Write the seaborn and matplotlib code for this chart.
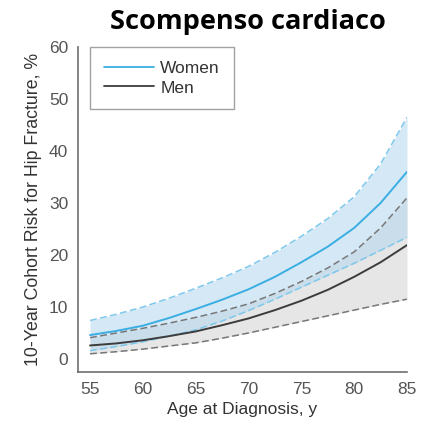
import matplotlib
matplotlib.use("Agg")
import matplotlib.pyplot as plt
import seaborn as sns
import pandas as pd

# Data
age = [55, 57.5, 60, 62.5, 65, 67.5, 70, 72.5, 75, 77.5, 80, 82.5, 85]
women_mean = [4.6, 5.4, 6.4, 7.9, 9.6, 11.4, 13.4, 15.8, 18.6, 21.6, 25.2, 30.0, 36.0]
women_upper = [7.4, 8.6, 10.0, 11.7, 13.6, 15.6, 17.8, 20.5, 23.6, 27.0, 31.2, 37.5, 46.5]
women_lower = [1.6, 2.4, 3.3, 4.4, 5.6, 7.3, 9.3, 11.5, 13.8, 16.1, 18.4, 20.9, 23.4]
men_mean = [2.6, 3.0, 3.6, 4.4, 5.3, 6.5, 7.8, 9.4, 11.2, 13.3, 15.8, 18.6, 21.9]
men_upper = [4.1, 5.0, 5.9, 6.9, 8.0, 9.2, 10.6, 12.6, 14.9, 17.5, 20.6, 25.2, 31.0]
men_lower = [1.0, 1.4, 1.9, 2.5, 3.1, 4.0, 5.0, 6.1, 7.2, 8.3, 9.4, 10.5, 11.5]
x_ticks = [55, 60, 65, 70, 75, 80, 85]
y_ticks = [0, 10, 20, 30, 40, 50, 60]

title = "Scompenso cardiaco"
xlabel = "Age at Diagnosis, y"
ylabel = "10-Year Cohort Risk for Hip Fracture, %"

sns.set_style("white")
plt.rcParams['font.family'] = ['Liberation Sans', 'DejaVu Sans']

df = pd.DataFrame({
    "age": age * 2,
    "risk": women_mean + men_mean,
    "sex": ["Women"] * len(age) + ["Men"] * len(age),
})

blue = "#3aaee2"
blue_ci = "#7ec8ec"
gray = "#3c3c3c"
gray_ci = "#777777"

fig = plt.figure(figsize=(4.23, 4.33), dpi=100)
ax = fig.add_axes([0.1844, 0.1409, 0.7778, 0.7506])

ax.fill_between(age, men_lower, men_upper, color="#e6e6e6", lw=0, zorder=1)
ax.fill_between(age, women_lower, women_upper, color="#b3d6ee", alpha=0.55, lw=0, zorder=2)

sns.lineplot(data=df, x="age", y="risk", hue="sex", palette={"Women": blue, "Men": gray},
             hue_order=["Women", "Men"], ax=ax, lw=1.4, zorder=5)

dash = (0, (4.5, 2.2))
ax.plot(age, women_upper, color=blue_ci, ls=dash, lw=1.1, zorder=4)
ax.plot(age, women_lower, color=blue_ci, ls=dash, lw=1.1, zorder=4)
ax.plot(age, men_upper, color=gray_ci, ls=dash, lw=1.1, zorder=3)
ax.plot(age, men_lower, color=gray_ci, ls=dash, lw=1.1, zorder=3)

ax.set_xlim(53.86, 85)
ax.set_ylim(-2.5, 60)
ax.set_xticks(x_ticks)
ax.set_yticks(y_ticks)
for s in ["top", "right"]:
    ax.spines[s].set_visible(False)
for s in ["left", "bottom"]:
    ax.spines[s].set_color("#6e6e6e")
    ax.spines[s].set_linewidth(1.2)
ax.tick_params(axis="both", direction="out", length=4, width=1.0, color="#6e6e6e",
               labelsize=12.5, labelcolor="#555555", pad=3)

ax.set_xlabel(xlabel, fontsize=12.5, color="#333333", labelpad=4)
ax.set_ylabel(ylabel, fontsize=12.8, color="#333333", labelpad=5)

leg = ax.legend(loc="upper left", bbox_to_anchor=(0.036, 1.0), frameon=True, fancybox=False,
                fontsize=12.5, handlelength=2.9, borderpad=0.8, labelspacing=0.25,
                handletextpad=0.35, borderaxespad=0.0)
leg.get_frame().set_edgecolor("#8a8a8a")
leg.get_frame().set_linewidth(1.0)
for t in leg.get_texts():
    t.set_color("#333333")
for l in leg.get_lines():
    l.set_linewidth(1.3)

fig.text(0.585, 0.95, title, ha="center", va="center", fontsize=19.5, fontweight="bold",
         family=["Open Sans", "DejaVu Sans"], color="black")

fig.savefig("out.png", dpi=100)
